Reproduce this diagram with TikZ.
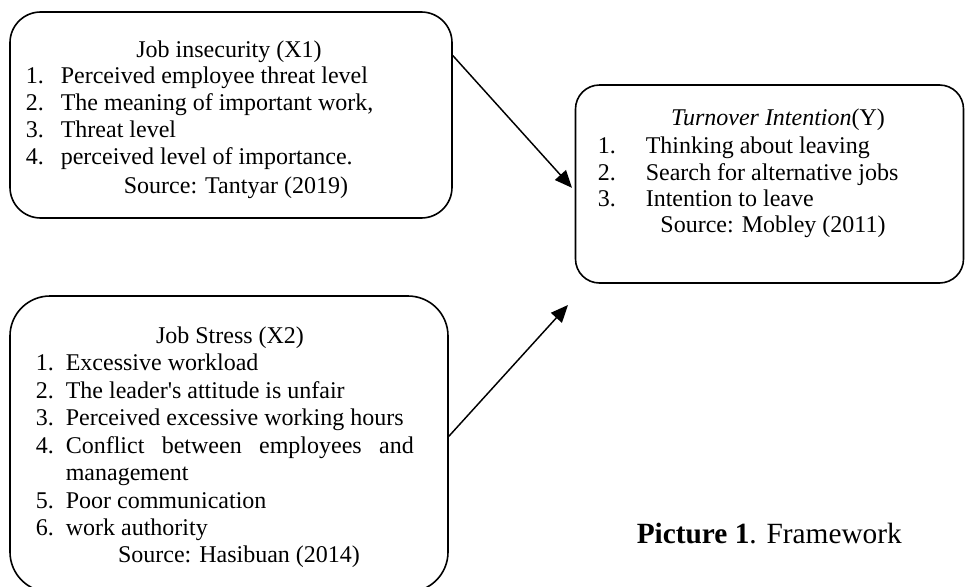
\documentclass[tikz,border=0pt]{standalone}
\usepackage{fontspec}
\setmainfont{Liberation Serif}
\usetikzlibrary{arrows.meta}

\tikzset{every picture/.style={line width=1.2pt}}
\tikzset{
  varbox/.style={draw, rounded corners=18pt, inner sep=0pt},
  txt/.style={anchor=base west, inner sep=0pt, font=\fontsize{18}{20}\selectfont},
  ctxt/.style={anchor=base, inner sep=0pt, font=\fontsize{18}{20}\selectfont},
  link/.style={-{Triangle[length=13pt,width=11pt]}, line width=1.1pt}
}

\begin{document}
\begin{tikzpicture}[x=0.75pt,y=0.75pt,yscale=-1,xscale=1]
\useasboundingbox (0,0) rectangle (968,586);

%Rounded Rect [Job insecurity]
\node [varbox, rounded corners=23pt, minimum width=331.5pt, minimum height=154.5pt] (X1) at (231,115) {};
%Rounded Rect [Turnover]
\node [varbox, minimum width=291pt, minimum height=148.5pt] (Y) at (769.5,184) {};
%Rounded Rect [Job stress]
\node [varbox, rounded corners=30pt, minimum width=328.5pt, minimum height=222pt] (X2) at (229,444) {};

%Arrows
\coordinate (Yin) at (568,305);
\draw [link, shorten >=3pt] (X1.15) -- (Y.182);
\draw [link] (X2.2) -- (Yin);

% Text Node
\node [ctxt] (x1t) at (229,57) {Job insecurity (X1)};
\node [txt] (x1a) at (25,83) {\makebox[26.25pt][l]{1.}Perceived employee threat level};
\node [txt] (x1b) at (25,110) {\makebox[26.25pt][l]{2.}The meaning of important work,};
\node [txt] (x1c) at (25,137) {\makebox[26.25pt][l]{3.}Threat level};
\node [txt] (x1d) at (25,164) {\makebox[26.25pt][l]{4.}perceived level of importance.};
\node [ctxt] (x1s) at (236,193) {Source: Tantyar (2019)};

% Text Node
\node [ctxt] (yt) at (778,125) {\textit{Turnover Intention}(Y)};
\node [txt] (ya) at (597,153) {\makebox[36pt][l]{1.}Thinking about leaving};
\node [txt] (yb) at (597,180) {\makebox[36pt][l]{2.}Search for alternative jobs};
\node [txt] (yc) at (597,206) {\makebox[36pt][l]{3.}Intention to leave};
\node [ctxt] (ys) at (773,232) {Source: Mobley (2011)};

% Text Node
\node [ctxt] (x2t) at (230,343) {Job Stress (X2)};
\node [txt] (x2a) at (35,370) {\makebox[22.5pt][l]{1.}Excessive workload};
\node [txt] (x2b) at (35,398) {\makebox[22.5pt][l]{2.}The leader\textquotesingle s attitude is unfair};
\node [txt] (x2c) at (35,425) {\makebox[22.5pt][l]{3.}Perceived excessive working hours};
\node [txt] (x2d) at (35,453) {\makebox[22.5pt][l]{4.}\makebox[261pt][s]{Conflict\hfill between\hfill employees\hfill and}};
\node [txt] (x2e) at (65,480) {management};
\node [txt] (x2f) at (35,508) {\makebox[22.5pt][l]{5.}Poor communication};
\node [txt] (x2g) at (35,535) {\makebox[22.5pt][l]{6.}work authority};
\node [ctxt] (x2s) at (239,562) {Source: Hasibuan (2014)};

% Caption
\node [txt, font=\fontsize{22}{26}\selectfont] (cap) at (636,543) {\textbf{Picture 1}. Framework};
\end{tikzpicture}
\end{document}
